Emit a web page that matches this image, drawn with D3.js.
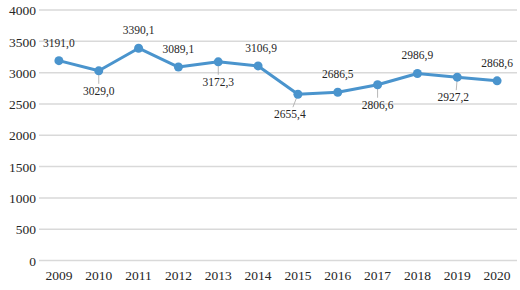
<!DOCTYPE html>
<html>
<head>
<meta charset="utf-8">
<script src="https://cdn.jsdelivr.net/npm/d3@7"></script>
<style>
  body { margin: 0; background: white; }
  text { font-family: "Liberation Serif", "Times New Roman", serif; fill: #262626; }
</style>
</head>
<body>
<script>
const years = ["2009", "2010", "2011", "2012", "2013", "2014", "2015", "2016", "2017", "2018", "2019", "2020"];
const values = [3191.0, 3029.0, 3390.1, 3089.1, 3172.3, 3106.9, 2655.4, 2686.5, 2806.6, 2986.9, 2927.2, 2868.6];
const labelSide = ["above", "below", "above", "above", "below", "above", "below", "above", "below", "above", "below", "above"];
const yTicks = [0, 500, 1000, 1500, 2000, 2500, 3000, 3500, 4000];

function main() {
    const width = 520, height = 290;
    const svg = d3.select("body").append("svg")
        .attr("width", width)
        .attr("height", height);

    const x = d3.scaleBand().domain(years).range([39, 517]);
    const y = d3.scaleLinear().domain([0, 4000]).range([260.5, 10]);
    const cx = d => x(d) + x.bandwidth() / 2;

    // grid
    svg.append("g").selectAll("line")
        .data(yTicks)
        .join("line")
        .attr("x1", 39).attr("x2", 517)
        .attr("y1", d => y(d)).attr("y2", d => y(d))
        .attr("stroke", "#d9d9d9")
        .attr("stroke-width", 1.5);

    const yAxis = svg.append("g")
        .attr("transform", "translate(36,0)")
        .call(d3.axisLeft(y).tickValues(yTicks).tickSize(0).tickPadding(0).tickFormat(d3.format("d")));
    yAxis.select(".domain").remove();
    yAxis.selectAll("text").attr("font-size", 13.5).attr("font-family", null).attr("dy", "0.35em");

    const xAxis = svg.append("g")
        .attr("transform", "translate(0,270)")
        .call(d3.axisBottom(x).tickSize(0).tickPadding(0));
    xAxis.select(".domain").remove();
    xAxis.selectAll("text").attr("font-size", 13.5).attr("font-family", null).attr("dy", "0.71em");

    const pts = years.map((yr, i) => ({ yr, v: values[i], side: labelSide[i] }));

    // small horizontal nudges for a few labels, like the original
    const nudge = { "2014": 3, "2015": -8, "2019": -4 };
    const fmt = v => d3.format(".1f")(v).replace(".", ",");
    const labelPos = d => {
        const px = cx(d.yr) + (nudge[d.yr] || 0), py = y(d.v);
        if (d.side === "above") return [px, py - 18];
        return [px, py + 20];
    };

    // leader lines for labels under points
    svg.append("g").selectAll("line")
        .data(pts.filter(d => d.side === "below"))
        .join("line")
        .attr("x1", d => cx(d.yr)).attr("y1", d => y(d.v))
        .attr("x2", d => labelPos(d)[0] + (nudge[d.yr] ? 3 : 0)).attr("y2", d => labelPos(d)[1] - 7)
        .attr("stroke", "#a6a6a6")
        .attr("stroke-width", 0.8);

    const line = d3.line().x(d => cx(d.yr)).y(d => y(d.v));
    svg.append("path")
        .datum(pts)
        .attr("d", line)
        .attr("fill", "none")
        .attr("stroke", "#4a94cd")
        .attr("stroke-width", 3)
        .attr("stroke-linejoin", "round");

    svg.append("g").selectAll("circle")
        .data(pts)
        .join("circle")
        .attr("cx", d => cx(d.yr))
        .attr("cy", d => y(d.v))
        .attr("r", 4.5)
        .attr("fill", "#4a94cd");

    svg.append("g").selectAll("text")
        .data(pts)
        .join("text")
        .attr("x", d => labelPos(d)[0])
        .attr("y", d => labelPos(d)[1])
        .attr("dy", "0.35em")
        .attr("text-anchor", "middle")
        .attr("font-size", 11.5)
        .text(d => fmt(d.v));
}

main()
</script>
</body>
</html>
